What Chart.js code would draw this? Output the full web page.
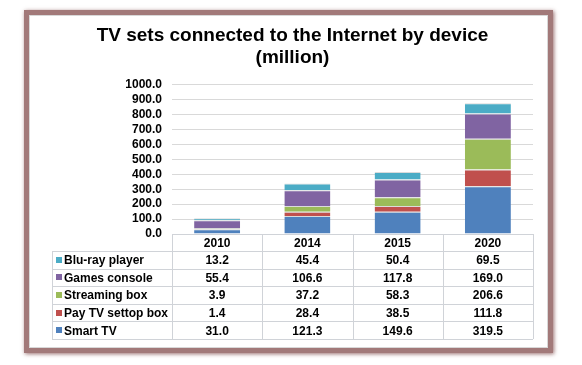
<!DOCTYPE html>
<html>
<head>
<meta charset="utf-8">
<script src="https://cdn.jsdelivr.net/npm/chart.js@4"></script>
<style>
  html, body { margin: 0; padding: 0; background: #fff; }
  body { width: 582px; height: 365px; position: relative; overflow: hidden; }
  #frame {
    position: absolute; left: 24px; top: 10px; width: 519px; height: 333px;
    border: 5px solid #a27979;
    box-shadow: 1px 1px 4px rgba(110, 50, 50, 0.7), inset 0 0 0 1px #d8d8d8;
  }
  #wrap { position: absolute; left: 0; top: 0; width: 582px; height: 365px; }
</style>
</head>
<body>
<div id="frame"></div>
<div id="wrap"><canvas id="chart" width="582" height="365"></canvas></div>
<script>
const years = ['2010', '2014', '2015', '2020'];
const smartTv = [31.0, 121.3, 149.6, 319.5];
const payTv = [1.4, 28.4, 38.5, 111.8];
const streamingBox = [3.9, 37.2, 58.3, 206.6];
const gamesConsole = [55.4, 106.6, 117.8, 169.0];
const bluRay = [13.2, 45.4, 50.4, 69.5];

const titleLines = ['TV sets connected to the Internet by device', '(million)'];
const FONT = '"Liberation Sans", Arial, sans-serif';

// stacked bottom-up, the table lists them top-down
const series = [
  { label: 'Smart TV', data: smartTv, color: '#4f81bd' },
  { label: 'Pay TV settop box', data: payTv, color: '#c0504d' },
  { label: 'Streaming box', data: streamingBox, color: '#9bbb59' },
  { label: 'Games console', data: gamesConsole, color: '#8064a2' },
  { label: 'Blu-ray player', data: bluRay, color: '#4bacc6' }
];

const ROW_H = 17.6;
const TABLE_LEFT = 52;
const lineColor = '#d0d3d8';

// draws the data table under the x axis, columns taken from the x scale
const dataTable = {
  id: 'dataTable',
  afterDraw(chart) {
    const ctx = chart.ctx;
    const x = chart.scales.x;
    const area = chart.chartArea;
    const n = years.length;
    const colW = (area.right - area.left) / n;
    const top = area.bottom;
    const headBottom = x.bottom;
    const rows = series.slice().reverse();
    const bottom = headBottom + rows.length * ROW_H;

    ctx.save();
    ctx.strokeStyle = lineColor;
    ctx.lineWidth = 1;
    ctx.beginPath();
    // vertical lines of the year columns
    for (let i = 0; i <= n; i++) {
      const px = Math.round(area.left + i * colW) + 0.5;
      ctx.moveTo(px, top);
      ctx.lineTo(px, bottom);
    }
    // left edge of the label column
    ctx.moveTo(TABLE_LEFT + 0.5, headBottom);
    ctx.lineTo(TABLE_LEFT + 0.5, bottom);
    // horizontal lines
    ctx.moveTo(area.left, Math.round(top) + 0.5);
    ctx.lineTo(area.right, Math.round(top) + 0.5);
    for (let r = 0; r <= rows.length; r++) {
      const py = Math.round(headBottom + r * ROW_H) + 0.5;
      ctx.moveTo(TABLE_LEFT, py);
      ctx.lineTo(area.right, py);
    }
    ctx.stroke();

    ctx.font = 'bold 12px ' + FONT;
    ctx.fillStyle = '#000';
    ctx.textBaseline = 'middle';
    rows.forEach((s, r) => {
      const cy = headBottom + r * ROW_H + ROW_H / 2;
      ctx.fillStyle = s.color;
      ctx.fillRect(TABLE_LEFT + 4, Math.round(cy) - 3, 6, 6);
      ctx.fillStyle = '#000';
      ctx.textAlign = 'left';
      ctx.fillText(s.label, TABLE_LEFT + 12, cy + 1);
      ctx.textAlign = 'center';
      s.data.forEach((v, i) => {
        ctx.fillText(v.toFixed(1), x.getPixelForValue(i), cy + 1);
      });
    });
    ctx.restore();
  }
};

new Chart(document.getElementById('chart'), {
  type: 'bar',
  data: {
    labels: years,
    datasets: series.map(s => ({
      label: s.label,
      data: s.data,
      backgroundColor: s.color,
      borderColor: 'rgba(215,215,215,0.9)',
      borderWidth: { top: 1, left: 0, right: 0, bottom: 0 },
      borderSkipped: false,
      categoryPercentage: 1.0,
      barPercentage: 0.51
    }))
  },
  options: {
    responsive: false,
    animation: false,
    devicePixelRatio: 1,
    layout: { padding: { left: TABLE_LEFT, right: 49, top: 14, bottom: 114 } },
    plugins: {
      legend: { display: false },
      tooltip: { enabled: false },
      title: {
        display: true,
        text: titleLines,
        color: '#000',
        font: { family: FONT, size: 19, weight: 'bold', lineHeight: 1.15 },
        padding: { top: 11, bottom: 16 }
      }
    },
    scales: {
      x: {
        stacked: true,
        grid: { display: false, drawTicks: false },
        border: { display: false },
        ticks: { color: '#000', font: { family: FONT, size: 12, weight: 'bold' }, padding: 2 },
        afterFit(scale) { scale.height = 17; }
      },
      y: {
        stacked: true,
        min: 0,
        max: 1000,
        grid: { color: '#d9d9d9', drawTicks: false },
        border: { display: false },
        ticks: {
          stepSize: 100,
          autoSkip: false,
          color: '#000',
          padding: 10,
          font: { family: FONT, size: 12, weight: 'bold' },
          callback: v => v.toFixed(1)
        },
        afterFit(scale) { scale.width = 120; }
      }
    }
  },
  plugins: [dataTable]
});
</script>
</body>
</html>
